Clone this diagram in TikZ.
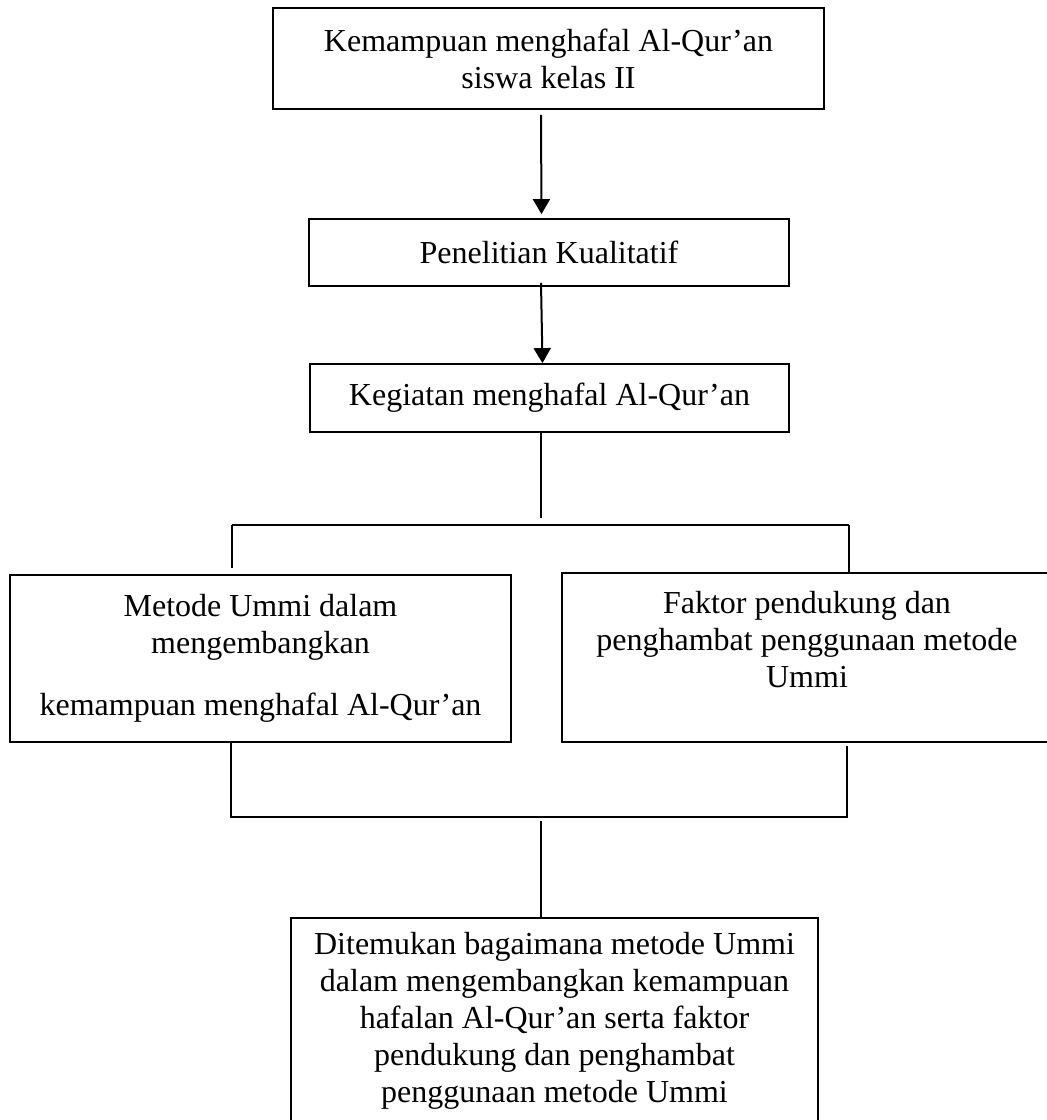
\documentclass[tikz,border=0pt]{standalone}
\usepackage{fontspec}
\setmainfont{Liberation Serif}
\usetikzlibrary{arrows.meta}
\begin{document}
\begin{tikzpicture}[x=0.5pt,y=-0.5pt,
  box/.style={draw, line width=0.9pt, align=center, inner sep=0pt,
    font=\fontsize{16}{18.5}\selectfont},
  conn/.style={line width=0.75pt},
  arr/.style={line width=1pt, -{Triangle[width=8.5pt,length=7.5pt]}}]
\useasboundingbox (0,0) rectangle (1046,1120);
% boxes
\node[box, minimum width=275.5pt, minimum height=50.5pt] (b1) at (548.5,58.5)
  {Kemampuan menghafal Al-Qur’an\\siswa kelas II};
\node[box, minimum width=240pt, minimum height=33.5pt] (b2) at (549,252.5)
  {Penelitian Kualitatif};
\node[box, minimum width=239.5pt, minimum height=34pt] (b3) at (549.5,398)
  {Kegiatan menghafal Al-Qur’an};
\node[box, minimum width=250.5pt, minimum height=83.5pt] (b4) at (260.5,658.5)
  {Metode Ummi dalam\\mengembangkan\\[12.5pt]kemampuan menghafal Al-Qur’an};
\node[box, minimum width=245pt, minimum height=84.5pt, text depth=18pt] (b5) at (807,657.5)
  {Faktor pendukung dan\\penghambat penggunaan metode\\Ummi};
\node[box, minimum width=263.5pt, minimum height=103pt] (b6) at (554.5,1021)
  {Ditemukan bagaimana metode Ummi\\dalam mengembangkan kemampuan\\hafalan Al-Qur’an serta faktor\\pendukung dan penghambat\\penggunaan metode Ummi};
% junction points
\coordinate (j1) at (541,518);
\coordinate (hl) at (232,525);
\coordinate (hr) at (849,525);
\coordinate (ll) at (231,817);
\coordinate (lr) at (847,817);
\coordinate (lc) at (541,821);
% connectors
\draw[arr] ([xshift=-3.75pt,yshift=-2.5pt]b1.south) -- ([xshift=-3.75pt,yshift=2pt]b2.north);
\draw[arr] ([xshift=-4pt,yshift=2pt]b2.south) -- ([xshift=-3.5pt]b3.north);
\draw[conn] ([xshift=-4.25pt]b3.south) -- (j1);
\draw[conn] (hl) -- (hr);
\draw[conn] (hl) -- ([yshift=3pt]hl |- b4.north);
\draw[conn] (hr) -- (hr |- b5.north);
\draw[conn] (b4.south -| ll) -- (ll) -- (lr) -- ([yshift=-1.5pt]b5.south -| lr);
\draw[conn] (lc) -- (lc |- b6.north);
\end{tikzpicture}
\end{document}
